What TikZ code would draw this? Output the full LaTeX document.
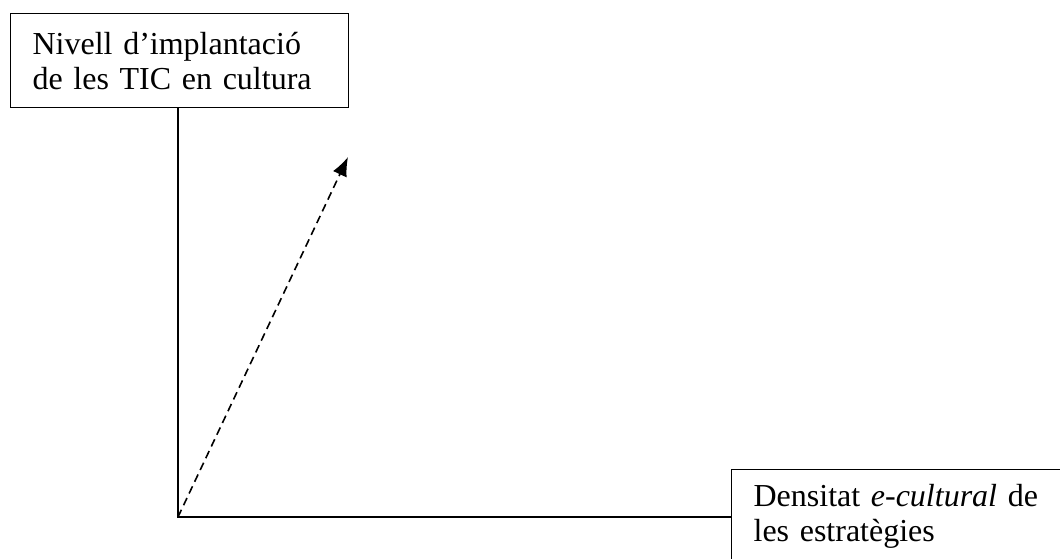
\documentclass[tikz,border=0pt]{standalone}
\usepackage{fontspec}
\setmainfont{Liberation Serif}
\usepackage{tikz}
\usetikzlibrary{arrows.meta}

\begin{document}
\begin{tikzpicture}[x=1pt,y=-1pt,>={Latex[length=19pt,width=15pt]},line width=1.4pt,
		boxlabel/.style={draw,line width=1.2pt,anchor=north west,align=left,inner xsep=22pt,
			font=\fontsize{32}{35}\selectfont}]
			\useasboundingbox (0,0) rectangle (1060,558);
			\node[boxlabel,minimum width=338pt,minimum height=94pt,text width=294pt] (tic) at (10,13) {Nivell d’implantació\\de les TIC en cultura};
			\node[boxlabel,inner ysep=15pt,text width=500pt] (densitat) at (731,469) {Densitat \textit{e-cultural} de\\les estratègies};
			\coordinate (origen) at (178,517);
			\coordinate (punta) at (348,157);
			\draw (tic.south -| origen) -- (origen) -- (densitat.west |- origen);
			\draw[->,dashed,line width=1.6pt,dash pattern=on 8pt off 5pt] (origen) -- (punta);
		\end{tikzpicture}
\end{document}
